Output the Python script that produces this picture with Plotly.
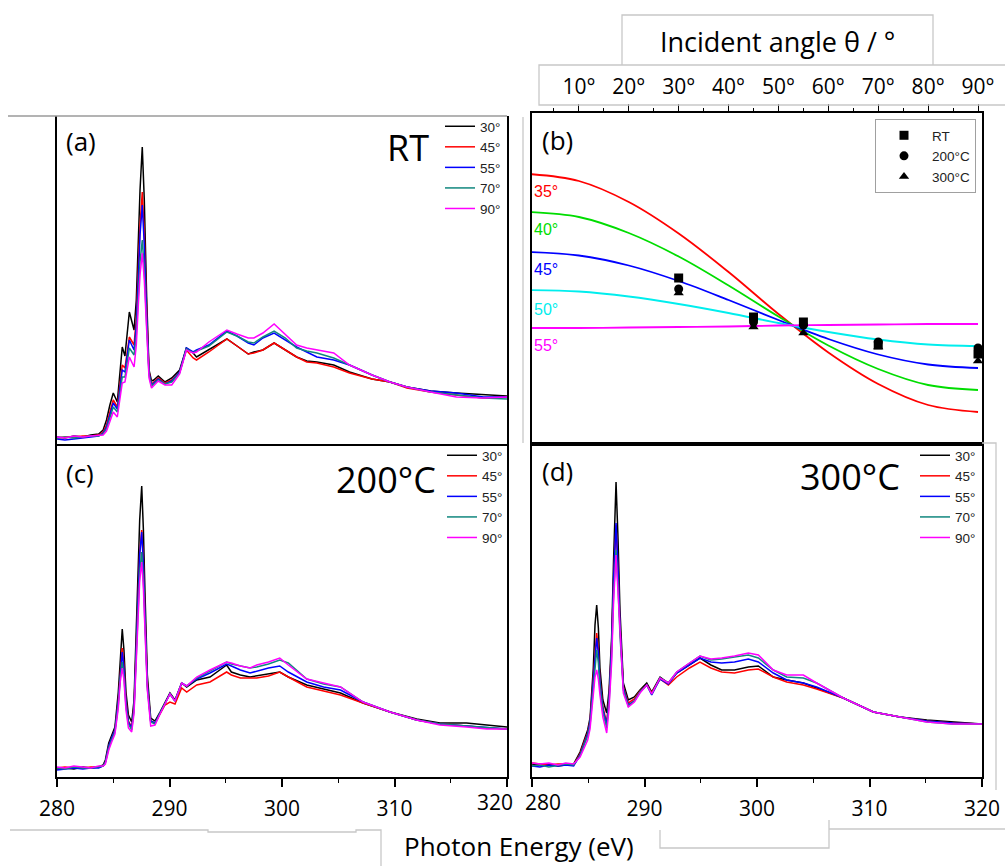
import plotly.graph_objects as go

W, H = 1005, 866

# ---------------- data (intensities in arbitrary units) -------------
angles = ["30°", "45°", "55°", "70°", "90°"]
angle_colors = ["#000000", "#ff0000", "#0000ff", "#11877f", "#ff00ff"]

# (a) RT
energy_rt = [280, 280.7, 281.5, 282.3, 283, 283.7, 284.1, 284.4, 284.7, 285.0, 285.36, 285.8, 286.04,
             286.43, 286.85, 287.05, 287.23, 287.38, 287.58, 287.76, 287.97, 288.18, 288.4, 288.6, 289.0,
             289.6, 290.2, 290.9, 291.5, 292.1, 292.4, 293.5, 295.1, 296.0, 297.0, 297.5, 298.3, 299.3,
             300.3, 301.3, 302.2, 303.1, 304.6, 306.0, 308.0, 309.6, 311.1, 313.2, 315.5, 317.9, 320]
rt_30 = [1, 0, 2, 1, 3, 4, 8, 18, 33, 45, 36, 91, 82, 126, 108, 138, 198, 248, 291, 238, 141, 68, 57, 58, 62,
         56, 60, 68, 90, 85, 81, 88, 99, 92, 84, 86, 88, 95, 88, 81, 77, 76, 73, 66, 59, 56, 51, 47, 45, 43, 42]
rt_45 = [0, 1, 1, 2, 2, 3, 6, 13, 26, 38, 31, 73, 70, 101, 93, 120, 170, 213, 246, 203, 128, 66, 54, 56, 60,
         55, 58, 66, 88, 80, 78, 86, 99, 92, 84, 85, 88, 95, 88, 81, 76, 75, 71, 65, 59, 56, 50, 46, 43, 40, 41]
rt_55 = [-1, -2, -1, 0, 1, 2, 5, 11, 23, 35, 29, 68, 66, 98, 88, 113, 160, 203, 233, 193, 123, 65, 53, 55, 59,
         54, 57, 66, 90, 86, 88, 93, 107, 102, 95, 93, 100, 105, 98, 91, 86, 81, 78, 73, 63, 56, 51, 47, 45, 41, 41]
rt_70 = [0, 1, 0, 1, 2, 2, 4, 9, 20, 31, 26, 61, 61, 90, 83, 103, 143, 176, 198, 168, 113, 63, 52, 54, 58,
         54, 56, 65, 89, 85, 87, 92, 106, 102, 96, 95, 101, 107, 100, 90, 87, 85, 80, 73, 63, 56, 51, 46, 43, 40, 39]
rt_90 = [1, 0, 2, 1, 2, 3, 3, 7, 17, 26, 21, 55, 56, 81, 71, 93, 133, 163, 185, 158, 108, 60, 50, 52, 57,
         53, 53, 64, 88, 85, 86, 96, 108, 104, 100, 100, 105, 114, 103, 93, 90, 88, 85, 73, 63, 56, 51, 46, 41, 40, 41]

# (c) 200 °C
energy_200 = [280, 280.7, 281.5, 282.3, 283, 283.7, 284.1, 284.3, 284.6, 284.86, 285.15, 285.45, 285.62, 285.8,
              285.95, 286.13, 286.35, 286.64, 286.85, 287.02, 287.2, 287.35, 287.53, 287.68, 287.82, 288.03,
              288.33, 288.71, 289.16, 289.6, 290.04, 290.49, 291.08, 291.53, 292.42, 293.6, 295.08, 295.5,
              296.3, 297.16, 297.75, 298.8, 299.8, 300.56, 302.2, 303.7, 305.2, 307.2, 309.6, 311.97, 314.04,
              316.4, 318.2, 320]
t200_30 = [-1, 0, -1, 1, 0, 1, 3, 8, 25, 33, 41, 76, 113, 139, 118, 76, 53, 46, 68, 126, 188, 248, 282, 238, 176,
           93, 50, 47, 56, 66, 75, 68, 85, 81, 88, 91, 103, 96, 93, 91, 92, 94, 96, 91, 83, 79, 75, 65, 56, 49,
           45, 45, 43, 41]
t200_45 = [0, 1, 0, 0, 1, 1, 2, 6, 22, 30, 38, 68, 98, 120, 103, 68, 47, 41, 62, 115, 168, 215, 238, 205, 155,
           85, 47, 45, 54, 63, 66, 64, 80, 76, 83, 86, 96, 93, 90, 90, 90, 92, 96, 91, 81, 77, 73, 65, 56, 48,
           44, 42, 40, 39]
t200_55 = [-2, -1, 0, -1, 0, 0, 2, 6, 22, 30, 38, 67, 96, 116, 100, 66, 46, 40, 61, 113, 166, 213, 236, 203, 153,
           84, 47, 45, 55, 65, 74, 67, 85, 82, 89, 95, 104, 102, 98, 95, 97, 100, 102, 96, 86, 81, 78, 66, 56, 48,
           44, 42, 40, 39]
t200_70 = [0, -1, 1, 0, 0, 1, 2, 5, 20, 28, 36, 63, 90, 106, 92, 62, 44, 38, 58, 105, 153, 196, 216, 188, 143,
           80, 46, 44, 55, 65, 74, 67, 85, 82, 90, 97, 106, 104, 102, 100, 101, 104, 108, 105, 89, 84, 81, 66, 56,
           48, 44, 42, 40, 39]
t200_90 = [1, 0, 2, 1, 0, 2, 2, 4, 18, 26, 34, 60, 86, 100, 88, 58, 40, 36, 55, 100, 146, 187, 206, 180, 138,
           78, 42, 43, 54, 64, 74, 67, 85, 82, 91, 98, 106, 105, 102, 100, 103, 106, 110, 103, 89, 85, 81, 66, 56,
           48, 43, 41, 39, 39]

# (d) 300 °C
energy_300 = [280, 280.7, 281.5, 282.3, 283, 283.7, 284.27, 284.7, 284.95, 285.16, 285.45, 285.6, 285.75, 285.9,
              286.04, 286.3, 286.64, 286.85, 287.08, 287.25, 287.47, 287.65, 287.82, 288.12, 288.56, 289.1,
              289.6, 290.2, 290.64, 291.38, 292.12, 292.86, 294.0, 294.93, 295.9, 296.86, 298.0, 299.23, 300.12,
              301.45, 302.64, 304.12, 305.3, 307.67, 310.34, 312.7, 315.1, 317.4, 320]
t300_30 = [1, 0, 1, -1, 0, 1, 13, 28, 35, 47, 97, 140, 160, 137, 97, 65, 52, 75, 128, 205, 283, 225, 155, 82, 65,
           68, 75, 82, 73, 88, 82, 92, 100, 107, 100, 95, 95, 98, 99, 88, 85, 82, 77, 67, 53, 48, 45, 43, 41]
t300_45 = [2, 1, 0, 1, 1, 0, 11, 25, 32, 44, 88, 118, 132, 115, 85, 58, 42, 68, 120, 185, 240, 195, 140, 78, 62,
           66, 74, 80, 72, 86, 80, 88, 97, 103, 97, 93, 92, 95, 96, 88, 83, 80, 76, 67, 53, 48, 44, 42, 41]
t300_55 = [-1, -2, 0, -1, 0, -1, 10, 24, 31, 43, 85, 114, 127, 112, 83, 56, 40, 66, 120, 186, 242, 196, 140, 77,
           60, 64, 73, 80, 70, 86, 81, 92, 100, 107, 103, 102, 103, 106, 103, 92, 85, 82, 78, 67, 53, 48, 44, 42, 41]
t300_70 = [-1, 0, -2, 0, 1, 0, 9, 22, 29, 40, 78, 103, 115, 102, 78, 53, 37, 62, 110, 170, 215, 178, 130, 75, 59,
           64, 73, 80, 71, 87, 82, 93, 102, 109, 105, 106, 108, 110, 107, 95, 88, 87, 82, 67, 53, 48, 43, 41, 41]
t300_90 = [2, 1, 2, 0, 2, 1, 8, 18, 25, 36, 70, 88, 95, 86, 70, 48, 32, 57, 103, 163, 210, 173, 126, 72, 58,
           63, 72, 80, 71, 87, 82, 93, 102, 109, 106, 107, 109, 112, 110, 95, 90, 90, 82, 67, 53, 48, 43, 41, 41]

# (b) angular dependence
theta_model = [0, 10, 20, 30, 40, 50, 60, 70, 80, 90]
tilt_labels = ["35°", "40°", "45°", "50°", "55°"]
tilt_colors = ["#ff0000", "#00dd00", "#0000ff", "#00eeee", "#ff00ff"]
model_35 = [269, 262, 241, 209.5, 171, 129, 90.5, 59, 38, 31]
model_40 = [231, 226, 210, 186.5, 157.5, 126.5, 97.5, 74, 58, 53]
model_45 = [191, 187.5, 177.5, 162, 143, 123, 104, 88.5, 78.5, 75]
model_50 = [153, 151.5, 146.5, 139, 130, 120, 111, 103.5, 98.5, 97]
model_55 = [115, 115, 115.5, 116, 116.5, 117.5, 118, 118.5, 119, 119]

theta_meas = [30, 45, 55, 70, 90]
meas_rt = [165, 126, 121, 98, 89]
meas_200 = [154, 121, 118, 101, 95]
meas_300 = [150, 116, 110, 96, 82]

theta_ticks = [10, 20, 30, 40, 50, 60, 70, 80, 90]
theta_ticktext = ["10°", "20°", "30°", "40°", "50°", "60°", "70°", "80°", "90°"]
energy_ticks = [280, 290, 300, 310, 320]

# ---------------- helpers -------------
def X(px):
    return px / W

def Y(py):
    return 1 - py / H

CAL = "Open Sans"
ARI = "Liberation Sans"

fig = go.Figure()

panels = [
    (energy_rt, [rt_30, rt_45, rt_55, rt_70, rt_90], "x", "y", "legend"),
    (energy_200, [t200_30, t200_45, t200_55, t200_70, t200_90], "x3", "y3", "legend2"),
    (energy_300, [t300_30, t300_45, t300_55, t300_70, t300_90], "x4", "y4", "legend3"),
]
for en, series, xa, ya, lg in panels:
    for name, col, vals in zip(angles, angle_colors, series):
        fig.add_trace(go.Scatter(x=en, y=vals, mode="lines", name=name, xaxis=xa, yaxis=ya,
                                 legend=lg, line=dict(color=col, width=1.5)))

for lab, col, vals in zip(tilt_labels, tilt_colors, [model_35, model_40, model_45, model_50, model_55]):
    fig.add_trace(go.Scatter(x=theta_model, y=vals, mode="lines", name=lab, xaxis="x2", yaxis="y2",
                             showlegend=False, line=dict(color=col, width=1.8, shape="spline")))

for name, sym, vals in zip(["RT", "200°C", "300°C"], ["square", "circle", "triangle-up"],
                           [meas_rt, meas_200, meas_300]):
    fig.add_trace(go.Scatter(x=theta_meas, y=vals, mode="markers", name=name, xaxis="x2", yaxis="y2",
                             legend="legend4", marker=dict(symbol=sym, size=9, color="black")))

frame = dict(showline=True, linecolor="black", linewidth=1.5, showgrid=False, zeroline=False,
             automargin=False)
yframe = dict(frame, mirror=True, showticklabels=False, ticks="")

bottom_x = dict(frame, range=[280, 320], ticks="outside", ticklen=8, tickwidth=1.5, tickcolor="black",
                tickvals=energy_ticks, tickfont=dict(family=CAL, size=21, color="black"),
                ticklabelstandoff=4,
                minor=dict(dtick=5, tick0=280, ticks="outside", ticklen=4, tickwidth=1.2, tickcolor="black"))

leg_font = dict(family=ARI, size=13.5, color="#222")
fig.update_layout(
    width=W, height=H, margin=dict(l=0, r=0, t=0, b=0, autoexpand=False),
    paper_bgcolor="white", plot_bgcolor="white",
    xaxis=dict(frame, domain=[X(57), X(507)], anchor="y", range=[280, 320], showticklabels=False, ticks=""),
    yaxis=dict(yframe, domain=[Y(444), Y(116)], anchor="x", range=[-6, 322]),
    xaxis3=dict(bottom_x, domain=[X(57), X(507)], anchor="y3",
                ticktext=["280", "290", "300", "310", ""]),
    yaxis3=dict(yframe, domain=[Y(777), Y(444)], anchor="x3", range=[-9, 324]),
    xaxis4=dict(bottom_x, domain=[X(532), X(982)], anchor="y4", mirror=True,
                ticktext=["", "290", "300", "310", "320"]),
    yaxis4=dict(yframe, domain=[Y(777), Y(444)], anchor="x4", range=[-12, 321]),
    xaxis2=dict(frame, domain=[X(532), X(982)], anchor="y2", side="top", mirror=True, range=[0.6, 90.8],
                ticks="outside", ticklen=7, tickwidth=1.2, tickcolor="black",
                tickvals=theta_ticks, ticktext=theta_ticktext,
                tickfont=dict(family=CAL, size=21, color="black"), ticklabelstandoff=2,
                minor=dict(dtick=5, tick0=0, ticks="outside", ticklen=3, tickwidth=1, tickcolor="black")),
    yaxis2=dict(yframe, domain=[Y(444), Y(113)], anchor="x2", range=[-1, 330]),
    legend=dict(x=X(440), y=Y(111), xanchor="left", yanchor="top", bgcolor="rgba(0,0,0,0)",
                font=leg_font, tracegroupgap=0, itemwidth=30),
    legend2=dict(x=X(442), y=Y(440), xanchor="left", yanchor="top", bgcolor="rgba(0,0,0,0)",
                 font=leg_font, tracegroupgap=0, itemwidth=30),
    legend3=dict(x=X(915), y=Y(440), xanchor="left", yanchor="top", bgcolor="rgba(0,0,0,0)",
                 font=leg_font, tracegroupgap=0, itemwidth=30),
    legend4=dict(x=X(875), y=Y(119), xanchor="left", yanchor="top", bgcolor="white",
                 bordercolor="#a0a0a0", borderwidth=1,
                 font=dict(family=ARI, size=13.5, color="#222"), tracegroupgap=0, itemwidth=46),
)

ann = []
def text(px, py, s, size, family=CAL, color="black", xanchor="left"):
    ann.append(dict(x=X(px), y=Y(py), xref="paper", yref="paper", text=s, showarrow=False,
                    xanchor=xanchor, yanchor="middle", font=dict(family=family, size=size, color=color)))

text(64, 141, "(a)", 26)
text(385, 147, "RT", 36)
text(540, 140, "(b)", 26)
text(64, 473, "(c)", 26)
text(334, 479, "200°C", 36)
text(540, 471, "(d)", 26)
text(798, 477, "300°C", 36)
text(777, 42, "Incident angle θ / °", 27, xanchor="center")
text(519, 846, "Photon Energy (eV)", 26, xanchor="center")
text(495, 802, "320", 21, xanchor="center")
text(543, 802, "280", 21, xanchor="center")
for lab, col, py in zip(tilt_labels, tilt_colors, [191, 229, 269, 309, 345]):
    text(532, py, lab, 16, family=ARI, color=col)
fig.update_layout(annotations=ann)

# light grey crop/border lines of the composed figure
grey = "#c8c8c8"
segs = [
    [(8, 116), (507, 116)],
    [(523, 117), (523, 443)],
    [(622, 65), (622, 15), (933, 15), (933, 65)],
    [(1005, 65), (539, 65), (539, 105), (1005, 105)],
    [(982, 443), (996, 443), (996, 790)],
    [(10, 830), (208, 830), (208, 832), (356, 832), (356, 830), (381, 830), (381, 866)],
    [(660, 830), (660, 848), (829, 848), (829, 820)],
    [(829, 829), (1005, 829)],
]
shapes = []
for s in segs:
    path = "M " + " L ".join(f"{X(a):.5f},{Y(b):.5f}" for a, b in s)
    col = "#9a9a9a" if s[0] == (8, 116) else grey
    shapes.append(dict(type="path", path=path, xref="paper", yref="paper",
                       line=dict(color=col, width=1.3)))
fig.update_layout(shapes=shapes)

fig.write_html("out.html", config={"displayModeBar": False})
